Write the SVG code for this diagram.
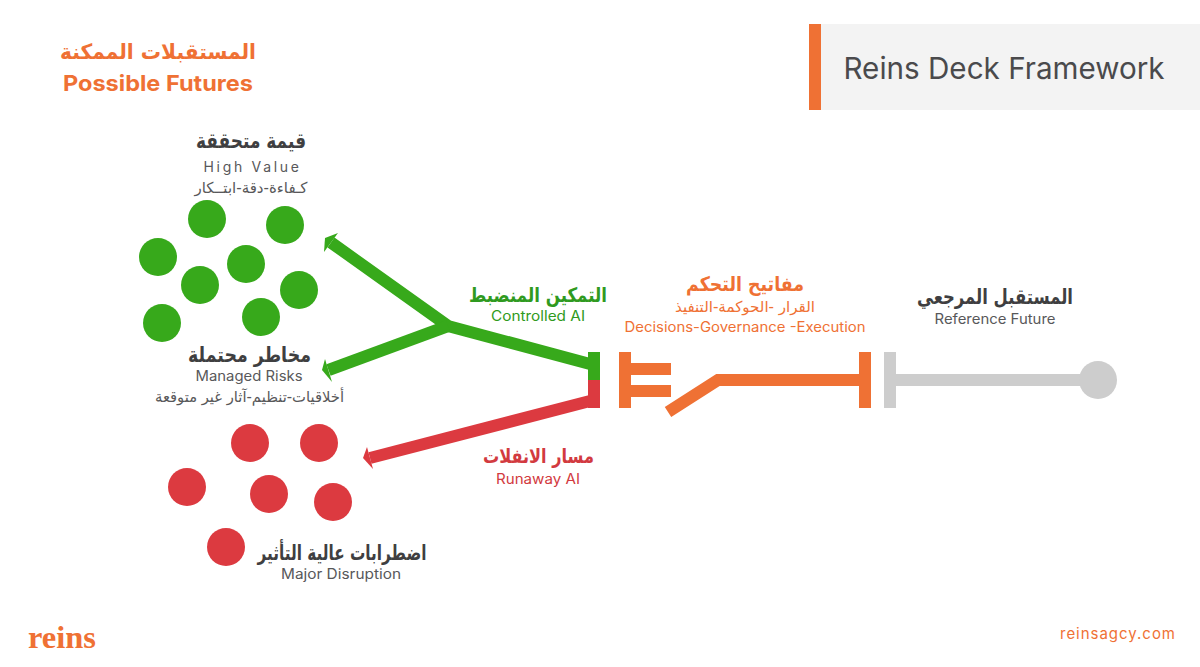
<svg xmlns="http://www.w3.org/2000/svg" width="1200" height="667" viewBox="0 0 1200 667">
<style>
text{font-family:"Inter","DejaVu Sans",sans-serif;text-anchor:middle}
.ar{font-family:"DejaVu Sans",sans-serif;direction:rtl}
.h{font-size:21px;font-weight:700;fill:#3f3f41}
.s{font-size:14px;fill:#58585a}
.t{font-size:15px;fill:#58585a}
.o{fill:#ef7134}.g{fill:#37a91b}.r{fill:#dc3a40}.y{fill:#cdcdcd}
.go{fill:#2f9a20}.ro{fill:#d23a40}
line,polyline{fill:none;stroke-width:12}
</style>
<g id="header"><rect x="821" y="24" width="379" height="86" fill="#f3f3f3"/><rect x="809" y="24" width="12" height="86" class="o"/>
<text x="1004" y="79" font-size="30" fill="#4a4a4c" textLength="321" lengthAdjust="spacingAndGlyphs">Reins Deck Framework</text></g>
<g id="title"><text class="ar o" x="158" y="59" font-size="21" font-weight="700" textLength="196" lengthAdjust="spacingAndGlyphs">المستقبلات الممكنة</text>
<text class="o" x="158" y="91" font-size="22" font-weight="700" textLength="190" lengthAdjust="spacingAndGlyphs">Possible Futures</text></g>
<g id="high-value"><text class="ar h" x="251" y="148" textLength="110" lengthAdjust="spacingAndGlyphs">قيمة متحققة</text>
<text class="s" x="252" y="172" letter-spacing="1.5" textLength="97">High Value</text>
<text class="ar t" x="251" y="193" textLength="113" lengthAdjust="spacingAndGlyphs">كـفاءة-دقة-ابتــكار</text></g>
<g id="green-dots" class="g"><circle cx="207" cy="219" r="19"/><circle cx="285" cy="225" r="19"/><circle cx="158" cy="257" r="19"/><circle cx="246" cy="264" r="19"/><circle cx="200" cy="285" r="19"/><circle cx="299" cy="290" r="19"/><circle cx="261" cy="317" r="19"/><circle cx="162" cy="323" r="19"/></g>
<g id="managed-risks"><text class="ar h" x="249.500" y="362" textLength="123" lengthAdjust="spacingAndGlyphs">مخاطر محتملة</text>
<text class="s" x="249" y="381" textLength="107" lengthAdjust="spacingAndGlyphs">Managed Risks</text>
<text class="ar t" x="249.500" y="402" textLength="189" lengthAdjust="spacingAndGlyphs">أخلاقيات-تنظيم-آثار غير متوقعة</text></g>
<g id="red-dots" class="r"><circle cx="250" cy="443" r="19"/><circle cx="319" cy="443" r="19"/><circle cx="187" cy="487" r="19"/><circle cx="269" cy="494" r="19"/><circle cx="333" cy="502" r="19"/><circle cx="226" cy="547" r="19"/></g>
<g id="major-disruption"><text class="ar h" x="342" y="560" textLength="169" lengthAdjust="spacingAndGlyphs">اضطرابات عالية التأثير</text>
<text class="s" x="341" y="579" textLength="120" lengthAdjust="spacingAndGlyphs">Major Disruption</text></g>
<g id="connectors">
<polyline stroke="#37a91b" points="590,364 448,326 331,242.500"/><polygon class="g" points="325,238 338,233 324,252"/>
<line stroke="#37a91b" x1="448" y1="326" x2="328.500" y2="370"/><polygon class="g" points="322,370 325,359 332,382"/>
<line stroke="#dc3a40" x1="590" y1="401" x2="370" y2="458"/><polygon class="r" points="363,458 367,447 373,469"/>
<rect class="g" x="588" y="352" width="12" height="28"/><rect class="r" x="588" y="380" width="12" height="28"/>
<rect class="o" x="619" y="352" width="12" height="56"/><rect class="o" x="631" y="363" width="40" height="12"/><rect class="o" x="631" y="385" width="40" height="12"/>
<polyline stroke="#ef7134" points="668,412 718,380 860,380"/><rect class="o" x="859" y="352" width="12" height="56"/>
<rect class="y" x="884" y="352" width="12" height="56"/><rect class="y" x="896" y="374" width="190" height="12"/><circle class="y" cx="1098" cy="380" r="19"/>
</g>
<g id="controlled"><text class="ar go" x="538" y="302" font-size="20" font-weight="700" textLength="138" lengthAdjust="spacingAndGlyphs">التمكين المنضبط</text>
<text class="go" x="538" y="321" font-size="14" textLength="94" lengthAdjust="spacingAndGlyphs">Controlled AI</text></g>
<g id="runaway"><text class="ar ro" x="538.500" y="463" font-size="20" font-weight="700" textLength="111" lengthAdjust="spacingAndGlyphs">مسار الانفلات</text>
<text class="ro" x="538" y="484" font-size="14" textLength="84" lengthAdjust="spacingAndGlyphs">Runaway AI</text></g>
<g id="keys"><text class="ar o" x="745" y="291" font-size="20" font-weight="700" textLength="118" lengthAdjust="spacingAndGlyphs">مفاتيح التحكم</text>
<text class="ar o" x="745" y="312" font-size="15" textLength="140" lengthAdjust="spacingAndGlyphs">القرار -الحوكمة-التنفيذ</text>
<text class="o" x="745" y="332" font-size="14" textLength="241" lengthAdjust="spacingAndGlyphs">Decisions-Governance -Execution</text></g>
<g id="reference"><text class="ar h" x="995" y="304" textLength="156" lengthAdjust="spacingAndGlyphs">المستقبل المرجعي</text>
<text class="s" x="995" y="324" textLength="121" lengthAdjust="spacingAndGlyphs">Reference Future</text></g>
<g id="footer"><text class="o" x="62" y="648" font-size="32" font-weight="700" style="font-family:'Liberation Serif',serif" textLength="68" lengthAdjust="spacingAndGlyphs">reins</text>
<text class="o" x="1118" y="639" font-size="15" letter-spacing="1" textLength="116">reinsagcy.com</text></g>
</svg>
